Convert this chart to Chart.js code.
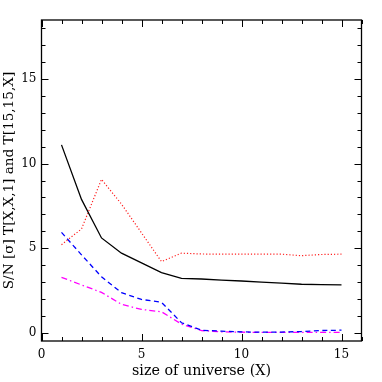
<!DOCTYPE html>
<html><head><meta charset="utf-8">
<script src="https://cdn.jsdelivr.net/npm/chart.js@4.4.1/dist/chart.umd.min.js"></script>
<style>html,body{margin:0;padding:0;background:#fff}#w{width:382px;height:382px}</style>
</head><body><div id="w"><canvas id="c" width="382" height="382"></canvas></div>
<script>
const xs = [1,2,3,4,5,6,7,8,9,10,11,12,13,14,15];
const blackSolid = [11.11,7.88,5.6,4.7,4.12,3.55,3.21,3.17,3.1,3.05,2.98,2.92,2.86,2.84,2.82];
const redDotted  = [5.2,6.13,9.07,7.6,5.9,4.2,4.7,4.65,4.64,4.64,4.64,4.64,4.55,4.62,4.64];
const blueDashed = [5.93,4.6,3.3,2.36,1.96,1.79,0.58,0.14,0.08,0.04,0.02,0.03,0.06,0.12,0.14];
const magentaDashDot = [3.27,2.82,2.38,1.67,1.37,1.23,0.5,0.12,0.04,0.02,0.01,0.01,0.01,0.01,0.01];
const xTickLabels = [0,5,10,15];
const yTickLabels = [0,5,10,15];
const xTitle = 'size of universe (X)';
const yTitle = 'S/N [\u03c3] T[X,X,1] and T[15,15,X]';

const FONT = 'DejaVu Serif';
const mctx = document.createElement('canvas').getContext('2d');
function fitSize(text, target) {
  mctx.font = '100px "' + FONT + '"';
  return Math.round(100 * target / mctx.measureText(text).width * 10) / 10;
}
const xTitleSize = fitSize(xTitle, 139);
const yTitleSize = fitSize(yTitle, 217);
const tickSize = fitSize('15', 15.3);

const mk = (ys) => xs.map((x,i)=>({x, y: ys[i]}));

const tickPlugin = {
  id: 'inTicks',
  afterDraw(chart) {
    const ctx = chart.ctx, a = chart.chartArea;
    const sx = chart.scales.x, sy = chart.scales.y;
    ctx.save();
    ctx.strokeStyle = '#000'; ctx.lineWidth = 1;
    ctx.beginPath();
    for (let v = 0; v <= 16; v++) {
      const p = Math.round(sx.getPixelForValue(v)) + 0.5;
      const L = v % 5 === 0 ? 7 : 4;
      ctx.moveTo(p, a.bottom); ctx.lineTo(p, a.bottom - L);
      ctx.moveTo(p, a.top); ctx.lineTo(p, a.top + L);
    }
    for (let v = 0; v <= 18; v++) {
      const p = Math.round(sy.getPixelForValue(v)) + 0.5;
      const L = v % 5 === 0 ? 7 : 4;
      ctx.moveTo(a.left, p); ctx.lineTo(a.left + L, p);
      ctx.moveTo(a.right, p); ctx.lineTo(a.right - L, p);
    }
    ctx.stroke();
    ctx.lineWidth = 1.3;
    ctx.strokeRect(a.left, a.top, a.right - a.left, a.bottom - a.top);
    ctx.restore();
  }
};

new Chart(document.getElementById('c'), {
  type: 'line',
  data: {
    datasets: [
      {data: mk(blackSolid), borderColor:'#000', borderWidth:1.3},
      {data: mk(redDotted), borderColor:'#ff2020', borderWidth:1.2, borderDash:[1.2,2]},
      {data: mk(blueDashed), borderColor:'#0000ff', borderWidth:1.3, borderDash:[5,3.5]},
      {data: mk(magentaDashDot), borderColor:'#ff00ff', borderWidth:1.3, borderDash:[6,3,1.5,3]}
    ]
  },
  options: {
    responsive:false, animation:false, devicePixelRatio:1,
    layout:{padding:{left:0, top:20, right:20.5, bottom:0}},
    elements:{point:{radius:0}, line:{tension:0, fill:false}},
    plugins:{legend:{display:false}, tooltip:{enabled:false}},
    scales:{
      x:{type:'linear', min:0, max:16,
        afterBuildTicks(s){ s.ticks = xTickLabels.map(v=>({value:v})); },
        afterFit(s){ s.height = 41; },
        grid:{display:true, drawOnChartArea:false, drawTicks:false},
        border:{display:false},
        ticks:{color:'#000', padding:7, maxRotation:0, font:{family:FONT, size:tickSize}},
        title:{display:true, text:xTitle, color:'#000', padding:{top:0,bottom:2}, font:{family:FONT, size:xTitleSize}}
      },
      y:{type:'linear', min:-0.5, max:18.5,
        afterBuildTicks(s){ s.ticks = yTickLabels.map(v=>({value:v})); },
        afterFit(s){ s.width = 41.5; },
        grid:{display:true, drawOnChartArea:false, drawTicks:false},
        border:{display:false},
        ticks:{color:'#000', padding:5, font:{family:FONT, size:tickSize}},
        title:{display:true, text:yTitle, color:'#000', padding:{top:1,bottom:0}, font:{family:FONT, size:yTitleSize}}
      }
    }
  },
  plugins:[tickPlugin]
});
</script></body></html>
